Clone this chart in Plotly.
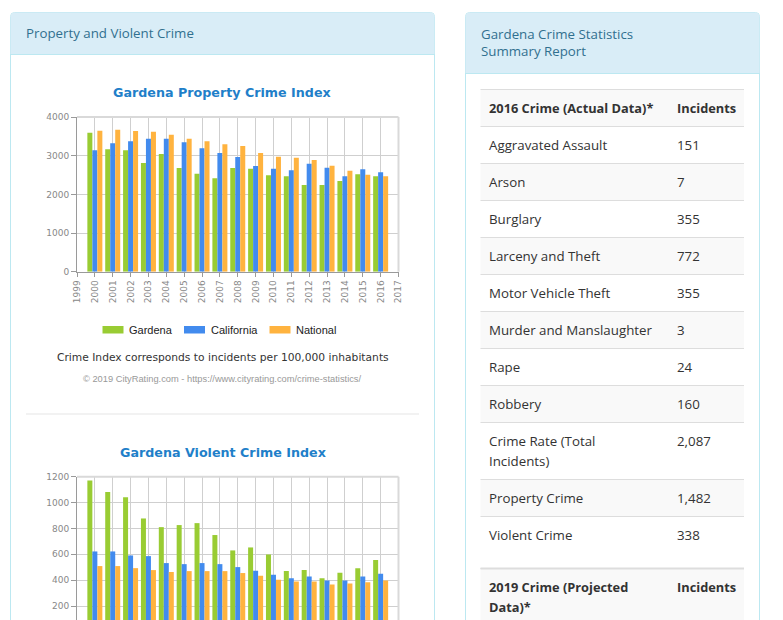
import plotly.graph_objects as go

# ---------------- data ----------------
years = list(range(2000, 2017))

prop_gardena = [3595, 3164, 3138, 2810, 3043, 2681, 2534, 2414, 2681, 2664, 2491, 2465, 2241, 2241, 2345, 2517, 2465]
prop_california = [3138, 3319, 3370, 3439, 3439, 3345, 3189, 3069, 2965, 2733, 2664, 2620, 2793, 2689, 2465, 2646, 2569]
prop_national = [3646, 3672, 3638, 3620, 3543, 3439, 3370, 3293, 3250, 3069, 2974, 2948, 2888, 2741, 2612, 2508, 2465]

viol_gardena = [1171, 1081, 1042, 877, 810, 826, 841, 749, 630, 653, 599, 470, 478, 414, 457, 493, 555]
viol_california = [622, 622, 591, 586, 532, 524, 532, 524, 501, 473, 442, 414, 429, 398, 398, 429, 450]
viol_national = [509, 509, 493, 478, 463, 470, 470, 470, 455, 434, 403, 390, 390, 367, 375, 383, 398]

series_names = ["Gardena", "California", "National"]
series_colors = ["#99CC33", "#428BEE", "#FFB33F"]

left_panel_title = "Property and Violent Crime"
right_panel_title = ["Gardena Crime Statistics", "Summary Report"]
chart1_title = "Gardena Property Crime Index"
chart2_title = "Gardena Violent Crime Index"
caption = "Crime Index corresponds to incidents per 100,000 inhabitants"
copyright_text = "© 2019 CityRating.com - https://www.cityrating.com/crime-statistics/"

table_header_2016 = (["2016 Crime (Actual Data)*"], "Incidents")
table_rows_2016 = [
    (["Aggravated Assault"], "151"),
    (["Arson"], "7"),
    (["Burglary"], "355"),
    (["Larceny and Theft"], "772"),
    (["Motor Vehicle Theft"], "355"),
    (["Murder and Manslaughter"], "3"),
    (["Rape"], "24"),
    (["Robbery"], "160"),
    (["Crime Rate (Total", "Incidents)"], "2,087"),
    (["Property Crime"], "1,482"),
    (["Violent Crime"], "338"),
]
table_header_2019 = (["2019 Crime (Projected", "Data)*"], "Incidents")

# ---------------- helpers ----------------
W, H = 783, 620
def fx(px):
    return px / W
def fy(py):
    return 1 - py / H

fig = go.Figure()

for vals, xa, ya in [((prop_gardena, prop_california, prop_national), "x", "y"),
                     ((viol_gardena, viol_california, viol_national), "x2", "y2")]:
    for name, col, v in zip(series_names, series_colors, vals):
        fig.add_trace(go.Bar(x=years, y=v, name=name, marker=dict(color=col, line=dict(width=0)),
                             xaxis=xa, yaxis=ya, showlegend=False, hoverinfo="skip"))

shapes = []
annotations = []

def top_rounded_rect(x0, y0, x1, y1, r, fill, line):
    path = (f"M {fx(x0)},{fy(y1)} L {fx(x0)},{fy(y0 + r)} Q {fx(x0)},{fy(y0)} {fx(x0 + r)},{fy(y0)} "
            f"L {fx(x1 - r)},{fy(y0)} Q {fx(x1)},{fy(y0)} {fx(x1)},{fy(y0 + r)} L {fx(x1)},{fy(y1)} Z")
    return dict(type="path", xref="paper", yref="paper", path=path, fillcolor=fill,
                line=dict(color=line, width=1), layer="below")

border = "#bce8f1"
head_fill = "#d9edf7"
shapes.append(top_rounded_rect(10.5, 12.5, 434.5, 640, 4, "white", border))
shapes.append(top_rounded_rect(11, 13, 434, 54, 3.5, head_fill, head_fill))
shapes.append(dict(type="line", xref="paper", yref="paper", x0=fx(11), x1=fx(434), y0=fy(54.5), y1=fy(54.5),
                   line=dict(color=border, width=1), layer="below"))
shapes.append(top_rounded_rect(465.5, 12.5, 759.5, 640, 4, "white", border))
shapes.append(top_rounded_rect(466, 13, 759, 73, 3.5, head_fill, head_fill))
shapes.append(dict(type="line", xref="paper", yref="paper", x0=fx(466), x1=fx(759), y0=fy(73.5), y1=fy(73.5),
                   line=dict(color=border, width=1), layer="below"))

head_font = dict(family="Open Sans", size=13.3, color="#31708f")
annotations.append(dict(text=left_panel_title, x=fx(24), y=fy(33), xref="paper", yref="paper",
                        xanchor="left", yanchor="middle", showarrow=False, font=head_font))
annotations.append(dict(text="<br>".join(right_panel_title), x=fx(479), y=fy(42.5), xref="paper", yref="paper",
                        xanchor="left", yanchor="middle", align="left", showarrow=False, font=head_font))

shapes.append(dict(type="line", xref="paper", yref="paper", x0=fx(26), x1=fx(419), y0=fy(414), y1=fy(414),
                   line=dict(color="#eeeeee", width=1.5), layer="below"))

title_font = dict(family="DejaVu Sans", size=12.7, color="#1f7fc9")
annotations.append(dict(text=f"<b>{chart1_title}</b>", x=fx(222), y=fy(92), xref="paper", yref="paper",
                        xanchor="center", yanchor="middle", showarrow=False, font=title_font))
annotations.append(dict(text=f"<b>{chart2_title}</b>", x=fx(223), y=fy(452), xref="paper", yref="paper",
                        xanchor="center", yanchor="middle", showarrow=False, font=title_font))

leg_x = [102.5, 184, 269.5]
for name, col, lx in zip(series_names, series_colors, leg_x):
    shapes.append(dict(type="rect", xref="paper", yref="paper", x0=fx(lx), x1=fx(lx + 21), y0=fy(326), y1=fy(333.5),
                       fillcolor=col, line=dict(width=0)))
    annotations.append(dict(text=name, x=fx(lx + 24.5), y=fy(330), xref="paper", yref="paper",
                            xanchor="left", yanchor="middle", showarrow=False,
                            font=dict(family="Liberation Sans", size=11, color="#222222")))

annotations.append(dict(text=caption, x=fx(223), y=fy(357), xref="paper", yref="paper", xanchor="center",
                        yanchor="middle", showarrow=False, font=dict(family="DejaVu Sans", size=10.7, color="#333333")))
annotations.append(dict(text=copyright_text, x=fx(222), y=fy(378.5), xref="paper", yref="paper", xanchor="center",
                        yanchor="middle", showarrow=False, font=dict(family="Liberation Sans", size=9.3, color="#999999")))

for ax in ["", "2"]:
    shapes.append(dict(type="line", xref=f"x{ax} domain", yref=f"y{ax} domain", x0=0, x1=1, y0=1, y1=1,
                       line=dict(color="#d9d9d9", width=2)))
    shapes.append(dict(type="line", xref=f"x{ax} domain", yref=f"y{ax} domain", x0=1, x1=1, y0=0, y1=1,
                       line=dict(color="#d9d9d9", width=2)))

# table
tx0, tx1 = 480.5, 744
col1_x, col2_x = 487, 675
text_font = dict(family="Open Sans", size=13.3, color="#333333")
bold_font = dict(family="Open Sans", size=12.8, color="#333333")

def add_row(labels, value, top, striped, bold=False):
    h = 17 + 20 * len(labels)
    if striped:
        shapes.append(dict(type="rect", xref="paper", yref="paper", x0=fx(tx0), x1=fx(tx1), y0=fy(top), y1=fy(top + h),
                           fillcolor="#f9f9f9", line=dict(width=0), layer="below"))
    shapes.append(dict(type="line", xref="paper", yref="paper", x0=fx(tx0), x1=fx(tx1), y0=fy(top), y1=fy(top),
                       line=dict(color="#dddddd", width=1)))
    f = bold_font if bold else text_font
    for i, lab in enumerate(labels):
        t = f"<b>{lab}</b>" if bold else lab
        annotations.append(dict(text=t, x=fx(col1_x), y=fy(top + 18.5 + 20 * i), xref="paper", yref="paper",
                                xanchor="left", yanchor="middle", showarrow=False, font=f))
    vt = f"<b>{value}</b>" if bold else value
    annotations.append(dict(text=vt, x=fx(col2_x), y=fy(top + 18.5), xref="paper", yref="paper",
                            xanchor="left", yanchor="middle", showarrow=False, font=f))
    return top + h

top = 89.5
top = add_row(table_header_2016[0], table_header_2016[1], top, True, bold=True)
for i, (lab, val) in enumerate(table_rows_2016):
    top = add_row(lab, val, top, i % 2 == 1)
top += 15
shapes.append(dict(type="line", xref="paper", yref="paper", x0=fx(tx0), x1=fx(tx1), y0=fy(top), y1=fy(top),
                   line=dict(color="#dddddd", width=2)))
add_row(table_header_2019[0], table_header_2019[1], top, True, bold=True)

tick_font = dict(family="DejaVu Sans", size=9, color="#888888")
common_x = dict(range=[1999, 2017], tick0=1999, dtick=1, showgrid=True, gridcolor="#cfcfcf", gridwidth=1,
                showline=True, linecolor="#9a9a9a", linewidth=1, ticks="outside", ticklen=4, tickcolor="#9a9a9a",
                tickfont=tick_font, tickangle=-90, zeroline=False, automargin=False, fixedrange=True)
common_y = dict(showgrid=True, gridcolor="#cfcfcf", gridwidth=1, showline=True, linecolor="#9a9a9a", linewidth=1,
                ticks="outside", ticklen=5, tickcolor="#9a9a9a", tickfont=tick_font, zeroline=False,
                automargin=False, fixedrange=True)

fig.update_layout(
    width=W, height=H, margin=dict(l=0, r=0, t=0, b=0), autosize=False,
    paper_bgcolor="white", plot_bgcolor="#e1ebeb",
    barmode="group", bargap=0.16, bargroupgap=0,
    xaxis=dict(domain=[fx(77), fx(398.5)], anchor="y", **common_x),
    yaxis=dict(domain=[fy(271.7), fy(117)], anchor="x", range=[0, 4000], dtick=1000, **common_y),
    xaxis2=dict(domain=[fx(77), fx(398.5)], anchor="y2", showticklabels=False, **common_x),
    yaxis2=dict(domain=[0, fy(476.7)], anchor="x2", range=[92, 1200], tick0=0, dtick=200, **common_y),
    shapes=shapes, annotations=annotations, showlegend=False,
)

fig.write_html("out.html")
